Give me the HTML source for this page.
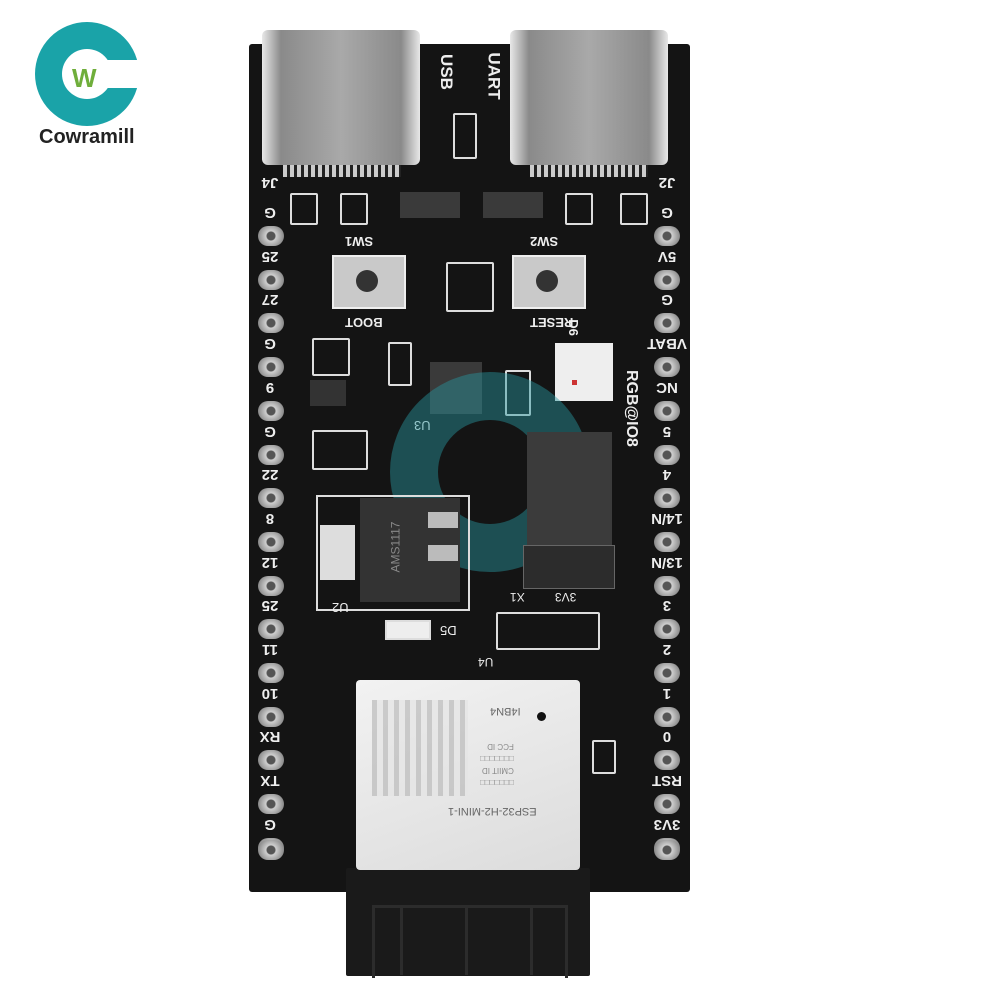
<!DOCTYPE html>
<html><head><style>
body{margin:0;width:1000px;height:1000px;background:#fff;position:relative;overflow:hidden;font-family:"Liberation Sans",sans-serif}
.a{position:absolute}
.pin{position:absolute;width:26px;height:20px;border-radius:10px;background:radial-gradient(circle at 50% 50%,#555 0 4px,#cfcfcf 5px,#888 13px)}
.lbl{position:absolute;color:#eee;font-weight:bold;font-size:15px;transform:rotate(180deg);width:44px;text-align:center}
.box{position:absolute;border:2px solid #ddd;border-radius:2px}
.chip{position:absolute;background:#2a2a2a}
.pad{position:absolute;background:#d8d8d8}
</style></head><body>
<!-- logo -->
<div class="a" style="left:35px;top:22px;width:104px;height:104px;border-radius:50%;background:#1aa3a8"></div>
<div class="a" style="left:62px;top:49px;width:50px;height:50px;border-radius:50%;background:#fff"></div>
<div class="a" style="left:100px;top:60px;width:45px;height:28px;background:#fff"></div>
<div class="a" style="left:72px;top:63px;font-size:26px;font-weight:bold;color:#6fae3b">W</div>
<div class="a" style="left:39px;top:126px;font-size:20px;font-weight:bold;color:#222">Cowramill</div>

<!-- board -->
<div class="a" style="left:249px;top:44px;width:441px;height:848px;background:#141414;border-radius:3px"></div>
<!-- antenna -->
<div class="a" style="left:346px;top:868px;width:244px;height:108px;background:#1a1a1a;border-radius:2px"></div>
<div class="a" style="left:372px;top:905px;width:190px;height:70px;border:3px solid #2c2c2c;border-bottom:none"></div>
<div class="a" style="left:400px;top:905px;width:3px;height:70px;background:#2c2c2c"></div>
<div class="a" style="left:465px;top:905px;width:3px;height:70px;background:#2c2c2c"></div>
<div class="a" style="left:530px;top:905px;width:3px;height:70px;background:#2c2c2c"></div>
<!-- module -->
<div class="a" style="left:356px;top:680px;width:224px;height:190px;background:linear-gradient(160deg,#f2f2f2,#dcdcdc);border-radius:4px"></div>
<div class="a" style="left:372px;top:700px;width:96px;height:96px;background:repeating-linear-gradient(90deg,#bbb 0 5px,#e5e5e5 5px 11px),#ccc;opacity:.7"></div>
<div class="a" style="left:537px;top:712px;width:9px;height:9px;border-radius:50%;background:#111"></div>
<div class="a" style="left:448px;top:805px;font-size:11px;color:#666;transform:rotate(180deg)">ESP32-H2-MINI-1</div>
<div class="a" style="left:490px;top:705px;font-size:11px;color:#666;transform:rotate(180deg)">I4BN4</div>
<div class="a" style="left:480px;top:740px;font-size:8px;color:#888;transform:rotate(180deg);line-height:12px">□□□□□□□<br>CMIIT ID<br>□□□□□□□<br>FCC ID</div>

<!-- USB connectors -->
<div class="a" style="left:262px;top:30px;width:158px;height:135px;background:linear-gradient(90deg,#e8e8e8,#8a8a8a 12%,#a9a9a9 50%,#8a8a8a 88%,#e8e8e8);border-radius:6px"></div>
<div class="a" style="left:510px;top:30px;width:158px;height:135px;background:linear-gradient(90deg,#e8e8e8,#8a8a8a 12%,#a9a9a9 50%,#8a8a8a 88%,#e8e8e8);border-radius:6px"></div>
<div class="a" style="left:283px;top:165px;width:118px;height:12px;background:repeating-linear-gradient(90deg,#ccc 0 4px,#222 4px 7px)"></div>
<div class="a" style="left:530px;top:165px;width:118px;height:12px;background:repeating-linear-gradient(90deg,#ccc 0 4px,#222 4px 7px)"></div>
<div class="a" style="left:428px;top:62px;font-size:17px;font-weight:bold;color:#eee;transform:rotate(90deg)">USB</div>
<div class="a" style="left:470px;top:66px;font-size:17px;font-weight:bold;color:#eee;transform:rotate(90deg)">UART</div>
<div class="box" style="left:453px;top:113px;width:20px;height:42px"></div>

<!-- diodes -->
<div class="chip" style="left:400px;top:192px;width:60px;height:26px;background:#3a3a3a"></div>
<div class="chip" style="left:483px;top:192px;width:60px;height:26px;background:#3a3a3a"></div>
<div class="box" style="left:290px;top:193px;width:24px;height:28px"></div>
<div class="box" style="left:340px;top:193px;width:24px;height:28px"></div>
<div class="box" style="left:565px;top:193px;width:24px;height:28px"></div>
<div class="box" style="left:620px;top:193px;width:24px;height:28px"></div>

<!-- buttons -->
<div class="a" style="left:332px;top:255px;width:70px;height:50px;background:#c9c9c9;border:2px solid #eee"></div>
<div class="a" style="left:356px;top:270px;width:22px;height:22px;border-radius:50%;background:#333"></div>
<div class="a" style="left:512px;top:255px;width:70px;height:50px;background:#c9c9c9;border:2px solid #eee"></div>
<div class="a" style="left:536px;top:270px;width:22px;height:22px;border-radius:50%;background:#333"></div>
<div class="a" style="left:345px;top:234px;font-size:13px;color:#eee;font-weight:bold;transform:rotate(180deg)">SW1</div>
<div class="a" style="left:530px;top:234px;font-size:13px;color:#eee;font-weight:bold;transform:rotate(180deg)">SW2</div>
<div class="a" style="left:345px;top:315px;font-size:13px;color:#eee;font-weight:bold;transform:rotate(180deg)">BOOT</div>
<div class="a" style="left:530px;top:315px;font-size:13px;color:#eee;font-weight:bold;transform:rotate(180deg)">RESET</div>
<div class="box" style="left:446px;top:262px;width:44px;height:46px"></div>

<!-- middle parts -->
<div class="chip" style="left:430px;top:362px;width:52px;height:52px;background:#3a3a3a"></div>
<div class="box" style="left:388px;top:342px;width:20px;height:40px"></div>
<div class="box" style="left:505px;top:370px;width:22px;height:42px"></div>
<div class="a" style="left:555px;top:343px;width:58px;height:58px;background:#eee"></div>
<div class="a" style="left:572px;top:380px;width:5px;height:5px;background:#c33"></div>
<div class="box" style="left:312px;top:338px;width:34px;height:34px"></div>
<div class="chip" style="left:310px;top:380px;width:36px;height:26px;background:#333"></div>
<div class="box" style="left:312px;top:430px;width:52px;height:36px"></div>
<div class="a" style="top:370px;font-size:16px;color:#eee;font-weight:bold;transform:rotate(90deg);transform-origin:0 0;left:640px">RGB@IO8</div>
<div class="a" style="left:565px;top:320px;font-size:13px;color:#eee;font-weight:bold;transform:rotate(90deg)">D6</div>
<div class="a" style="left:414px;top:418px;font-size:13px;color:#eee;transform:rotate(180deg)">U3</div>

<!-- watermark logo -->
<div class="a" style="left:390px;top:372px;width:200px;height:200px;border-radius:50%;border:48px solid rgba(40,150,160,.45);box-sizing:border-box"></div>

<!-- regulator -->
<div class="a" style="left:316px;top:495px;width:150px;height:112px;border:2px solid #ddd"></div>
<div class="chip" style="left:360px;top:498px;width:100px;height:104px;background:#333"></div>
<div class="a" style="left:320px;top:525px;width:35px;height:55px;background:#ddd"></div>
<div class="a" style="left:428px;top:512px;width:30px;height:16px;background:#bbb"></div>
<div class="a" style="left:428px;top:545px;width:30px;height:16px;background:#bbb"></div>
<div class="a" style="left:370px;top:540px;font-size:12px;color:#888;transform:rotate(-90deg)">AMS1117</div>
<div class="a" style="left:332px;top:600px;font-size:13px;color:#eee;transform:rotate(180deg)">U2</div>
<div class="a" style="left:385px;top:620px;width:42px;height:16px;border:2px solid #ddd;background:#eee"></div>
<div class="a" style="left:440px;top:623px;font-size:13px;color:#eee;transform:rotate(180deg)">D5</div>

<!-- crystal / jumper -->
<div class="chip" style="left:527px;top:432px;width:85px;height:115px;background:#3b3b3b"></div>
<div class="chip" style="left:523px;top:545px;width:90px;height:42px;background:#2c2c2c;border:1px solid #666"></div>
<div class="a" style="left:555px;top:590px;font-size:12px;color:#eee;transform:rotate(180deg)">3V3</div>
<div class="a" style="left:510px;top:590px;font-size:12px;color:#eee;transform:rotate(180deg)">X1</div>
<div class="box" style="left:496px;top:612px;width:100px;height:34px"></div>
<div class="a" style="left:478px;top:655px;font-size:12px;color:#eee;transform:rotate(180deg)">U4</div>
<div class="box" style="left:592px;top:740px;width:20px;height:30px"></div>

<!-- pins -->
<div id="pins"></div>
<script>
var L=["G","25","27","G","9","G","22","8","12","25","11","10","RX","TX","G"];
var R=["G","5V","G","VBAT","NC","5","4","14/N","13/N","3","2","1","0","RST","3V3"];
var h="";
for(var i=0;i<15;i++){var y=212+i*43.7;
h+='<div class="pin" style="left:258px;top:'+(y+14)+'px"></div>';
h+='<div class="pin" style="left:654px;top:'+(y+14)+'px"></div>';
h+='<div class="lbl" style="left:248px;top:'+(y-8)+'px">'+L[i]+'</div>';
h+='<div class="lbl" style="left:645px;top:'+(y-8)+'px">'+R[i]+'</div>';}
h+='<div class="pin" style="left:258px;top:840px"></div><div class="pin" style="left:654px;top:840px"></div>';
h+='<div class="lbl" style="left:248px;top:174px">J4</div><div class="lbl" style="left:645px;top:174px">J2</div>';
document.getElementById("pins").innerHTML=h;
</script>
</body></html>
